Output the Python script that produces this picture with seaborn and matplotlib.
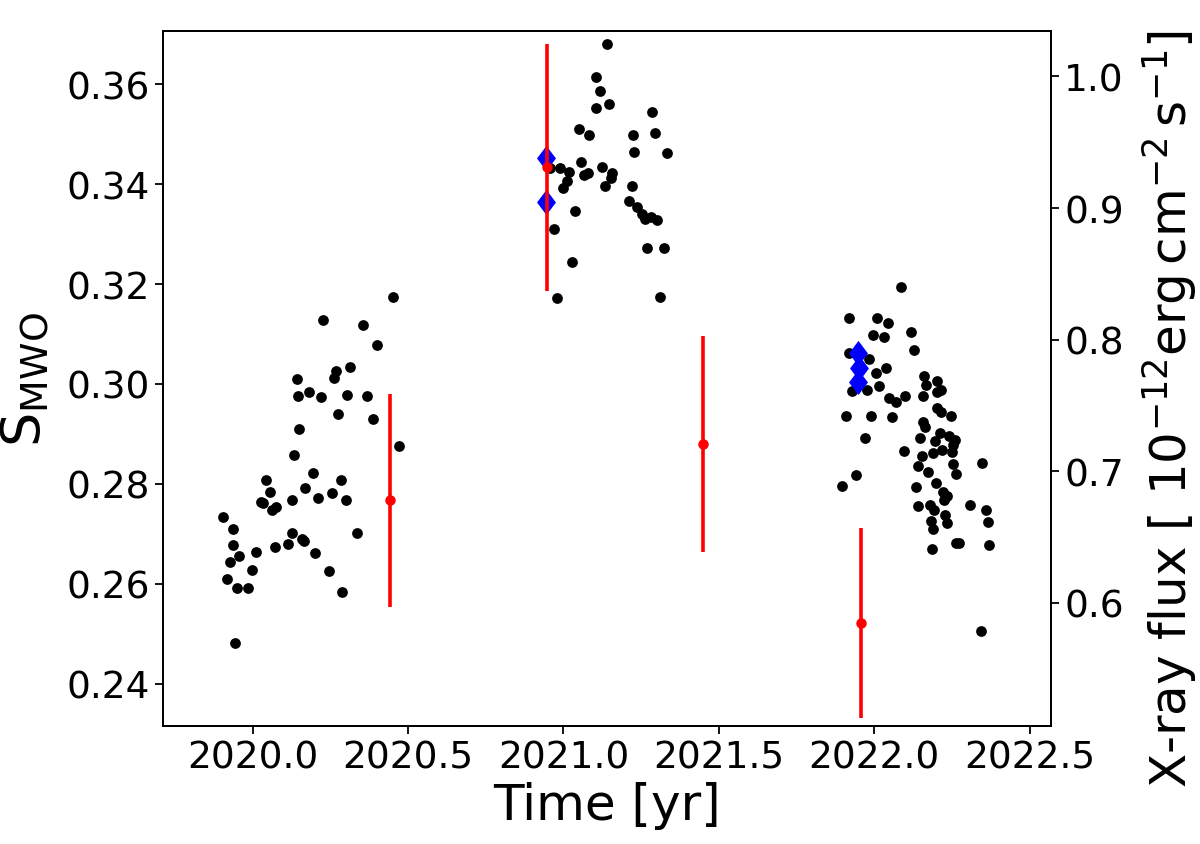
"""
Chromospheric activity (S_MWO) and X-ray flux versus time.
"""

import pandas as pd
import matplotlib
matplotlib.use("Agg")
import matplotlib.pyplot as plt
import seaborn as sns

# S_MWO measurements (black dots)
s_time = [
    2019.905, 2019.918, 2019.926, 2019.937, 2019.937, 2019.942, 2019.949, 2019.956,
    2019.986, 2019.997, 2020.011, 2020.027, 2020.034, 2020.042, 2020.055, 2020.062,
    2020.071, 2020.076, 2020.114, 2020.125, 2020.125, 2020.134, 2020.141, 2020.144,
    2020.150, 2020.158, 2020.165, 2020.169, 2020.182, 2020.194, 2020.201, 2020.209,
    2020.219, 2020.226, 2020.245, 2020.254, 2020.260, 2020.267, 2020.273, 2020.284,
    2020.288, 2020.299, 2020.304, 2020.313, 2020.334, 2020.356, 2020.369, 2020.387,
    2020.399, 2020.452, 2020.469,
    2020.957, 2020.968, 2020.980, 2020.989, 2020.999, 2021.010, 2021.017, 2021.026,
    2021.038, 2021.049, 2021.055, 2021.067, 2021.078, 2021.081, 2021.106, 2021.106,
    2021.117, 2021.123, 2021.133, 2021.141, 2021.146, 2021.152, 2021.157, 2021.210,
    2021.219, 2021.225, 2021.228, 2021.236, 2021.253, 2021.262, 2021.268, 2021.281,
    2021.286, 2021.295, 2021.300, 2021.311, 2021.322, 2021.333,
    2021.897, 2021.909, 2021.920, 2021.920, 2021.930, 2021.942, 2021.972, 2021.977,
    2021.983, 2021.990, 2021.996, 2022.005, 2022.010, 2022.015, 2022.032, 2022.038,
    2022.044, 2022.047, 2022.057, 2022.069, 2022.085, 2022.096, 2022.100, 2022.117,
    2022.128, 2022.136, 2022.142, 2022.142, 2022.149, 2022.155, 2022.158, 2022.158,
    2022.160, 2022.164, 2022.166, 2022.174, 2022.180, 2022.182, 2022.186, 2022.188,
    2022.190, 2022.193, 2022.196, 2022.199, 2022.201, 2022.203, 2022.203, 2022.211,
    2022.214, 2022.216, 2022.219, 2022.220, 2022.225, 2022.228, 2022.233, 2022.233,
    2022.241, 2022.247, 2022.251, 2022.254, 2022.254, 2022.260, 2022.262, 2022.264,
    2022.273, 2022.310, 2022.343, 2022.346, 2022.360, 2022.367, 2022.371,
]
s_mwo = [
    0.2733, 0.2610, 0.2644, 0.2709, 0.2677, 0.2481, 0.2592, 0.2656,
    0.2592, 0.2628, 0.2664, 0.2763, 0.2761, 0.2807, 0.2784, 0.2747,
    0.2673, 0.2754, 0.2679, 0.2767, 0.2701, 0.2858, 0.3010, 0.2976,
    0.2909, 0.2689, 0.2686, 0.2791, 0.2983, 0.2822, 0.2661, 0.2771,
    0.2974, 0.3128, 0.2626, 0.2782, 0.3012, 0.3026, 0.2939, 0.2807,
    0.2584, 0.2768, 0.2978, 0.3035, 0.2701, 0.3118, 0.2975, 0.2929,
    0.3078, 0.3175, 0.2875,
    0.3432, 0.3310, 0.3172, 0.3432, 0.3392, 0.3407, 0.3425, 0.3245,
    0.3346, 0.3511, 0.3445, 0.3419, 0.3422, 0.3498, 0.3614, 0.3552,
    0.3586, 0.3434, 0.3397, 0.3681, 0.3560, 0.3412, 0.3422, 0.3367,
    0.3396, 0.3498, 0.3465, 0.3355, 0.3340, 0.3331, 0.3273, 0.3334,
    0.3545, 0.3502, 0.3329, 0.3175, 0.3273, 0.3462,
    0.2795, 0.2936, 0.3133, 0.3062, 0.2986, 0.2818, 0.2891, 0.2988,
    0.3050, 0.2935, 0.3098, 0.3021, 0.3133, 0.2995, 0.3095, 0.3033,
    0.3122, 0.2972, 0.2933, 0.2963, 0.3195, 0.2865, 0.2975, 0.3104,
    0.3068, 0.2794, 0.2835, 0.2755, 0.2891, 0.2856, 0.2975, 0.2923,
    0.3016, 0.2913, 0.2998, 0.2823, 0.2757, 0.2726, 0.2669, 0.2861,
    0.2709, 0.2748, 0.2886, 0.2802, 0.2951, 0.3005, 0.2983, 0.2901,
    0.2988, 0.2943, 0.2868, 0.2783, 0.2767, 0.2737, 0.2776, 0.2721,
    0.2896, 0.2935, 0.2863, 0.2877, 0.2840, 0.2888, 0.2820, 0.2681,
    0.2681, 0.2758, 0.2505, 0.2841, 0.2747, 0.2723, 0.2677,
]

# S_MWO at the X-ray epochs (blue diamonds)
blue_time = [2020.944, 2020.944, 2021.949, 2021.952, 2021.949]
blue_s = [0.3452, 0.3365, 0.3063, 0.3033, 0.3004]

# X-ray flux (red, right axis)
xray_time = [2020.440, 2020.948, 2021.450, 2021.957]
xray_flux = [0.678, 0.931, 0.721, 0.585]
xray_err = [0.081, 0.094, 0.082, 0.072]

sns.set_style("ticks")
plt.rcParams["font.family"] = ["DejaVu Sans"]
plt.rcParams["mathtext.fontset"] = "dejavusans"
plt.rcParams["text.color"] = "black"
plt.rcParams["axes.labelcolor"] = "black"
plt.rcParams["xtick.color"] = "black"
plt.rcParams["ytick.color"] = "black"

df_s = pd.DataFrame({"time": s_time, "s": s_mwo})
df_b = pd.DataFrame({"time": blue_time, "s": blue_s})
df_x = pd.DataFrame({"time": xray_time, "flux": xray_flux, "err": xray_err})

fig = plt.figure(figsize=(12, 8.45), dpi=100)
ax = fig.add_axes([0.1356, 0.1391, 0.7402, 0.8236])

sns.scatterplot(data=df_s, x="time", y="s", color="black", s=60,
                linewidth=0, ax=ax, zorder=3)
diamond = [(0, 1), (0.75, 0), (0, -1), (-0.75, 0), (0, 1)]
sns.scatterplot(data=df_b, x="time", y="s", color="blue", marker=diamond,
                s=330, linewidth=0, ax=ax, zorder=4)

ax2 = ax.twinx()
ax2.errorbar(df_x["time"], df_x["flux"], yerr=df_x["err"], fmt="o",
             color="red", ms=6.5, elinewidth=2.6, capsize=0)

ax.set_xlim(2019.71, 2022.569)
ax.set_ylim(0.2314, 0.3708)
ax2.set_ylim(0.5062, 1.0349)
ax.set_xticks([2020.0, 2020.5, 2021.0, 2021.5, 2022.0, 2022.5])
ax.set_yticks([0.24, 0.26, 0.28, 0.30, 0.32, 0.34, 0.36])
ax2.set_yticks([0.6, 0.7, 0.8, 0.9, 1.0])

ax.set_xlabel("Time [yr]", fontsize=36, labelpad=4)
ax.set_ylabel(r"$\mathrm{S_{MWO}}$", fontsize=39, labelpad=10)
ax2.set_ylabel(r"X-ray flux [ $10^{-12}\mathrm{erg\,cm^{-2}\,s^{-1}}$]",
               fontsize=36)
ax2.yaxis.set_label_coords(1.10, 0.457)

for a in (ax, ax2):
    a.tick_params(labelsize=27, length=6, width=1.3, color="black",
                  labelcolor="black")
    for sp in a.spines.values():
        sp.set_linewidth(1.4)
        sp.set_color("black")

fig.savefig("out.png", dpi=100)
